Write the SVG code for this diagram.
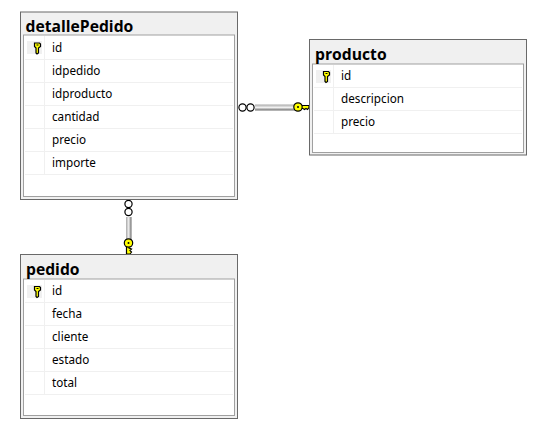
<svg xmlns="http://www.w3.org/2000/svg" width="543" height="431" viewBox="0 0 543 431">
<style>
.outer{fill:#f0f0f0;stroke:#696969;stroke-width:1}
.inner{fill:#fff;stroke:#a0a0a0;stroke-width:1}
.row{stroke:#f0f0f0;stroke-width:1;fill:none}
.keycell{fill:#f0f0f0}
.title{font:bold 15.700px "Open Sans","Noto Sans",sans-serif;fill:#000}
.col{font:11.700px "Noto Sans","Open Sans",sans-serif;fill:#000}
.circ{fill:#fff;stroke:#000;stroke-width:1.200}
.key{fill:#ffff00;stroke:#000;stroke-width:1.200}
</style>
<defs>
<g id="k">
<path class="key" d="M-3 -4.500H2L3 -3.500V-1L1 .5V5.500L-.5 6.500L-1.500 5.500V.5L-3 -1Z"/>
<rect x="-1" y="-3" width="2" height="1" fill="#000"/>
</g>
<linearGradient id="gh" x1="0" y1="0" x2="0" y2="1"><stop offset="0" stop-color="#a8a8a8"/><stop offset=".5" stop-color="#f0f0f0"/><stop offset="1" stop-color="#686868"/></linearGradient>
<linearGradient id="gv" x1="0" y1="0" x2="1" y2="0"><stop offset="0" stop-color="#a8a8a8"/><stop offset=".5" stop-color="#f0f0f0"/><stop offset="1" stop-color="#686868"/></linearGradient>
</defs>
<rect width="543" height="431" fill="#fff"/>
<g id="connectors">
<g id="conn-producto">
<rect x="255" y="104.500" width="40" height="6" fill="url(#gh)"/>
<circle class="circ" cx="242.500" cy="107.500" r="3.600"/>
<circle class="circ" cx="250.500" cy="107.500" r="3.600"/>
<path class="key" d="M301 105.500H309V107.500L307.500 109.500L306 108.500L304.500 109.500L303 108.500H301Z"/>
<circle class="key" cx="298" cy="107" r="4.200"/>
<circle cx="298" cy="107" r="1" fill="#000"/>
</g>
<g id="conn-pedido">
<rect x="126" y="217" width="5.500" height="23" fill="url(#gv)"/>
<circle class="circ" cx="128.500" cy="204" r="3.600"/>
<circle class="circ" cx="128.500" cy="212" r="3.600"/>
<path class="key" d="M126.500 246H129V248L131.500 249L130 250.500L131.500 252L130 254H126.500Z"/>
<circle class="key" cx="128.500" cy="243" r="4.200"/>
<circle cx="128.500" cy="243" r="1" fill="#000"/>
</g>
</g>
<g id="detallePedido">
<rect class="outer" x="20.500" y="12" width="217" height="187.500"/>
<rect class="inner" x="23.500" y="35" width="211" height="161.500"/>
<text class="title" x="25.500" y="32">detallePedido</text>
<rect class="keycell" x="27" y="41" width="15" height="13"/>
<path class="row" d="M25 59.500H233M25 82.500H233M25 105.500H233M25 128.500H233M25 151.500H233M25 174.500H233M44.500 36V174"/>
<use href="#k" x="37.500" y="47.500"/>
<text class="col" x="52" y="52">id</text>
<text class="col" x="52" y="75">idpedido</text>
<text class="col" x="52" y="98">idproducto</text>
<text class="col" x="52" y="121">cantidad</text>
<text class="col" x="52" y="144">precio</text>
<text class="col" x="52" y="167">importe</text>
</g>
<g id="producto">
<rect class="outer" x="309.500" y="39.500" width="217" height="115.500"/>
<rect class="inner" x="312.500" y="64" width="211" height="88.500"/>
<text class="title" x="315" y="60">producto</text>
<rect class="keycell" x="316" y="70" width="15" height="13"/>
<path class="row" d="M314 87.500H522M314 110.500H522M314 133.500H522M333.500 65V133"/>
<use href="#k" x="326.500" y="76"/>
<text class="col" x="341" y="80">id</text>
<text class="col" x="341" y="103">descripcion</text>
<text class="col" x="341" y="126">precio</text>
</g>
<g id="pedido">
<rect class="outer" x="20.500" y="254.500" width="217" height="164"/>
<rect class="inner" x="23.500" y="279" width="211" height="136.500"/>
<text class="title" x="26" y="275">pedido</text>
<rect class="keycell" x="27" y="285" width="15" height="13"/>
<path class="row" d="M25 302.500H233M25 325.500H233M25 348.500H233M25 371.500H233M25 394.500H233M44.500 280V394"/>
<use href="#k" x="37.500" y="291"/>
<text class="col" x="52" y="295">id</text>
<text class="col" x="52" y="318">fecha</text>
<text class="col" x="52" y="341">cliente</text>
<text class="col" x="52" y="364">estado</text>
<text class="col" x="52" y="387">total</text>
</g>
</svg>
